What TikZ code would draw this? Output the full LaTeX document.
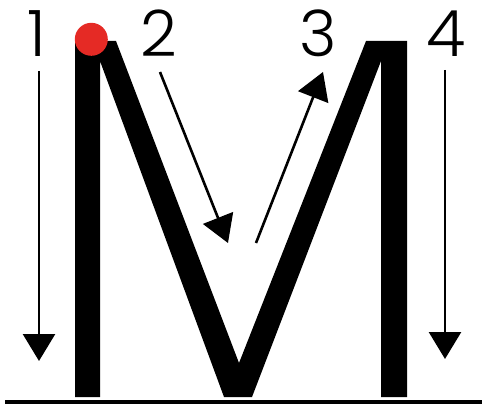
\documentclass[tikz,border=0pt]{standalone}
\usepackage{fontspec}
\setmainfont{Poppins Light}
\usetikzlibrary{arrows.meta}
\definecolor{dotred}{RGB}{229,42,37}
\tikzset{
  numlabel/.style={anchor=base, inner sep=0pt, font=\fontsize{64}{64}\selectfont},
  strokearrow/.style={line width=2.6pt, -{Triangle[width=32pt,length=27pt]}},
}
\begin{document}
\begin{tikzpicture}[x=1pt,y=-1pt]
\useasboundingbox (0,0) rectangle (482,404);
% letter M
\fill[black] (75,41) -- (116,41) -- (239,363) -- (366,41) -- (407,41) -- (407,397)
  -- (381,397) -- (381,61) -- (252,397) -- (224,397) -- (100,61) -- (100,397)
  -- (75,397) -- cycle;
% baseline
\draw[line width=3.5pt] (5,402) -- (482,402);
% start dot
\fill[dotred] (91.3,39.3) circle (16.5);
% numbers
\node[numlabel] (n1) at (36.5,56.5) {1};
\node[numlabel] (n2) at (159,56.5) {2};
\node[numlabel] (n3) at (318.5,56.5) {3};
\node[numlabel] (n4) at (446.5,56.5) {4};
% arrows
\coordinate (a1s) at (39,71);  \coordinate (a1e) at (39,361);
\coordinate (a2s) at (160,72); \coordinate (a2e) at (228,243);
\coordinate (a3s) at (256,243); \coordinate (a3e) at (323,72);
\coordinate (a4s) at (445,70); \coordinate (a4e) at (445,359);
\draw[strokearrow] (a1s) -- (a1e);
\draw[strokearrow] (a2s) -- (a2e);
\draw[strokearrow] (a3s) -- (a3e);
\draw[strokearrow] (a4s) -- (a4e);
\end{tikzpicture}
\end{document}
